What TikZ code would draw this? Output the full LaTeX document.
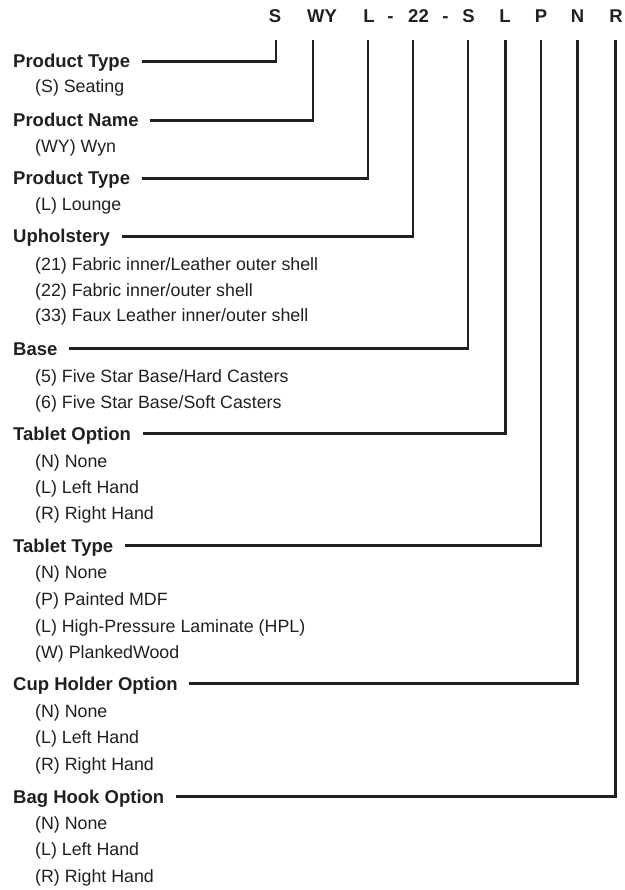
\documentclass[tikz,border=0pt]{standalone}
\usepackage{fontspec}
\setmainfont{Liberation Sans}
\usetikzlibrary{calc}
\definecolor{ink}{HTML}{231F20}
\begin{document}
\begin{tikzpicture}[x=1pt,y=-1pt,
  hd/.style={anchor=base west,inner sep=0,font=\fontsize{18.5}{20}\selectfont\bfseries,text=ink},
  it/.style={anchor=base west,inner sep=0,font=\fontsize{17.8}{20}\selectfont,text=ink},
  cd/.style={anchor=base,inner sep=0,font=\fontsize{18.5}{20}\selectfont\bfseries,text=ink},
  ln/.style={draw=ink,line width=2.3pt,line join=miter}]
\useasboundingbox (0,0) rectangle (624,890);
% code line
\node[cd] (c1) at (275,23) {S};
\node[cd] (c2) at (322,23) {WY};
\node[cd] (c3) at (369,23) {L};
\node[cd] (d1) at (390.5,23) {-};
\node[cd] (c4) at (418.5,23) {22};
\node[cd] (d2) at (445.5,23) {-};
\node[cd] (c5) at (468.5,23) {S};
\node[cd] (c6) at (505,23) {L};
\node[cd] (c7) at (541,23) {P};
\node[cd] (c8) at (577.5,23) {N};
\node[cd] (c9) at (616,23) {R};
% tick tops
\coordinate (t1) at (276,40);
\coordinate (t2) at (313,40);
\coordinate (t3) at (368,40);
\coordinate (t4) at (413,40);
\coordinate (t5) at (468,40);
\coordinate (t6) at (505.5,40);
\coordinate (t7) at (541,40);
\coordinate (t8) at (577.5,40);
\coordinate (t9) at (615.5,40);
% headings
\node[hd] (h1) at (13,68) {Product Type};
\node[hd] (h2) at (13,127) {Product Name};
\node[hd] (h3) at (13,185) {Product Type};
\node[hd] (h4) at (13,243) {Upholstery};
\node[hd] (h5) at (13,355) {Base};
\node[hd] (h6) at (13,440) {Tablet Option};
\node[hd] (h7) at (13,552) {Tablet Type};
\node[hd] (h8) at (13,690) {Cup Holder Option};
\node[hd] (h9) at (13,803) {Bag Hook Option};
% items
\node[it] (i1a) at (35,93) {(S) Seating};
\node[it] (i2a) at (35,153) {(WY) Wyn};
\node[it] (i3a) at (35,211) {(L) Lounge};
\node[it] (i4a) at (35,270) {(21) Fabric inner/Leather outer shell};
\node[it] (i4b) at (35,296) {(22) Fabric inner/outer shell};
\node[it] (i4c) at (35,321) {(33) Faux Leather inner/outer shell};
\node[it] (i5a) at (35,382) {(5) Five Star Base/Hard Casters};
\node[it] (i5b) at (35,408) {(6) Five Star Base/Soft Casters};
\node[it] (i6a) at (35,467) {(N) None};
\node[it] (i6b) at (35,493) {(L) Left Hand};
\node[it] (i6c) at (35,519) {(R) Right Hand};
\node[it] (i7a) at (35,578) {(N) None};
\node[it] (i7b) at (35,605) {(P) Painted MDF};
\node[it] (i7c) at (35,632) {(L) High-Pressure Laminate (HPL)};
\node[it] (i7d) at (35,658) {(W) PlankedWood};
\node[it] (i8a) at (35,717) {(N) None};
\node[it] (i8b) at (35,743) {(L) Left Hand};
\node[it] (i8c) at (35,770) {(R) Right Hand};
\node[it] (i9a) at (35,829) {(N) None};
\node[it] (i9b) at (35,855) {(L) Left Hand};
\node[it] (i9c) at (35,882) {(R) Right Hand};
% connectors
\foreach \k in {1,...,9}{
  \draw[ln] ($(h\k.base east)+(11.5,-6.5)$) -| (t\k);
}
\end{tikzpicture}
\end{document}
